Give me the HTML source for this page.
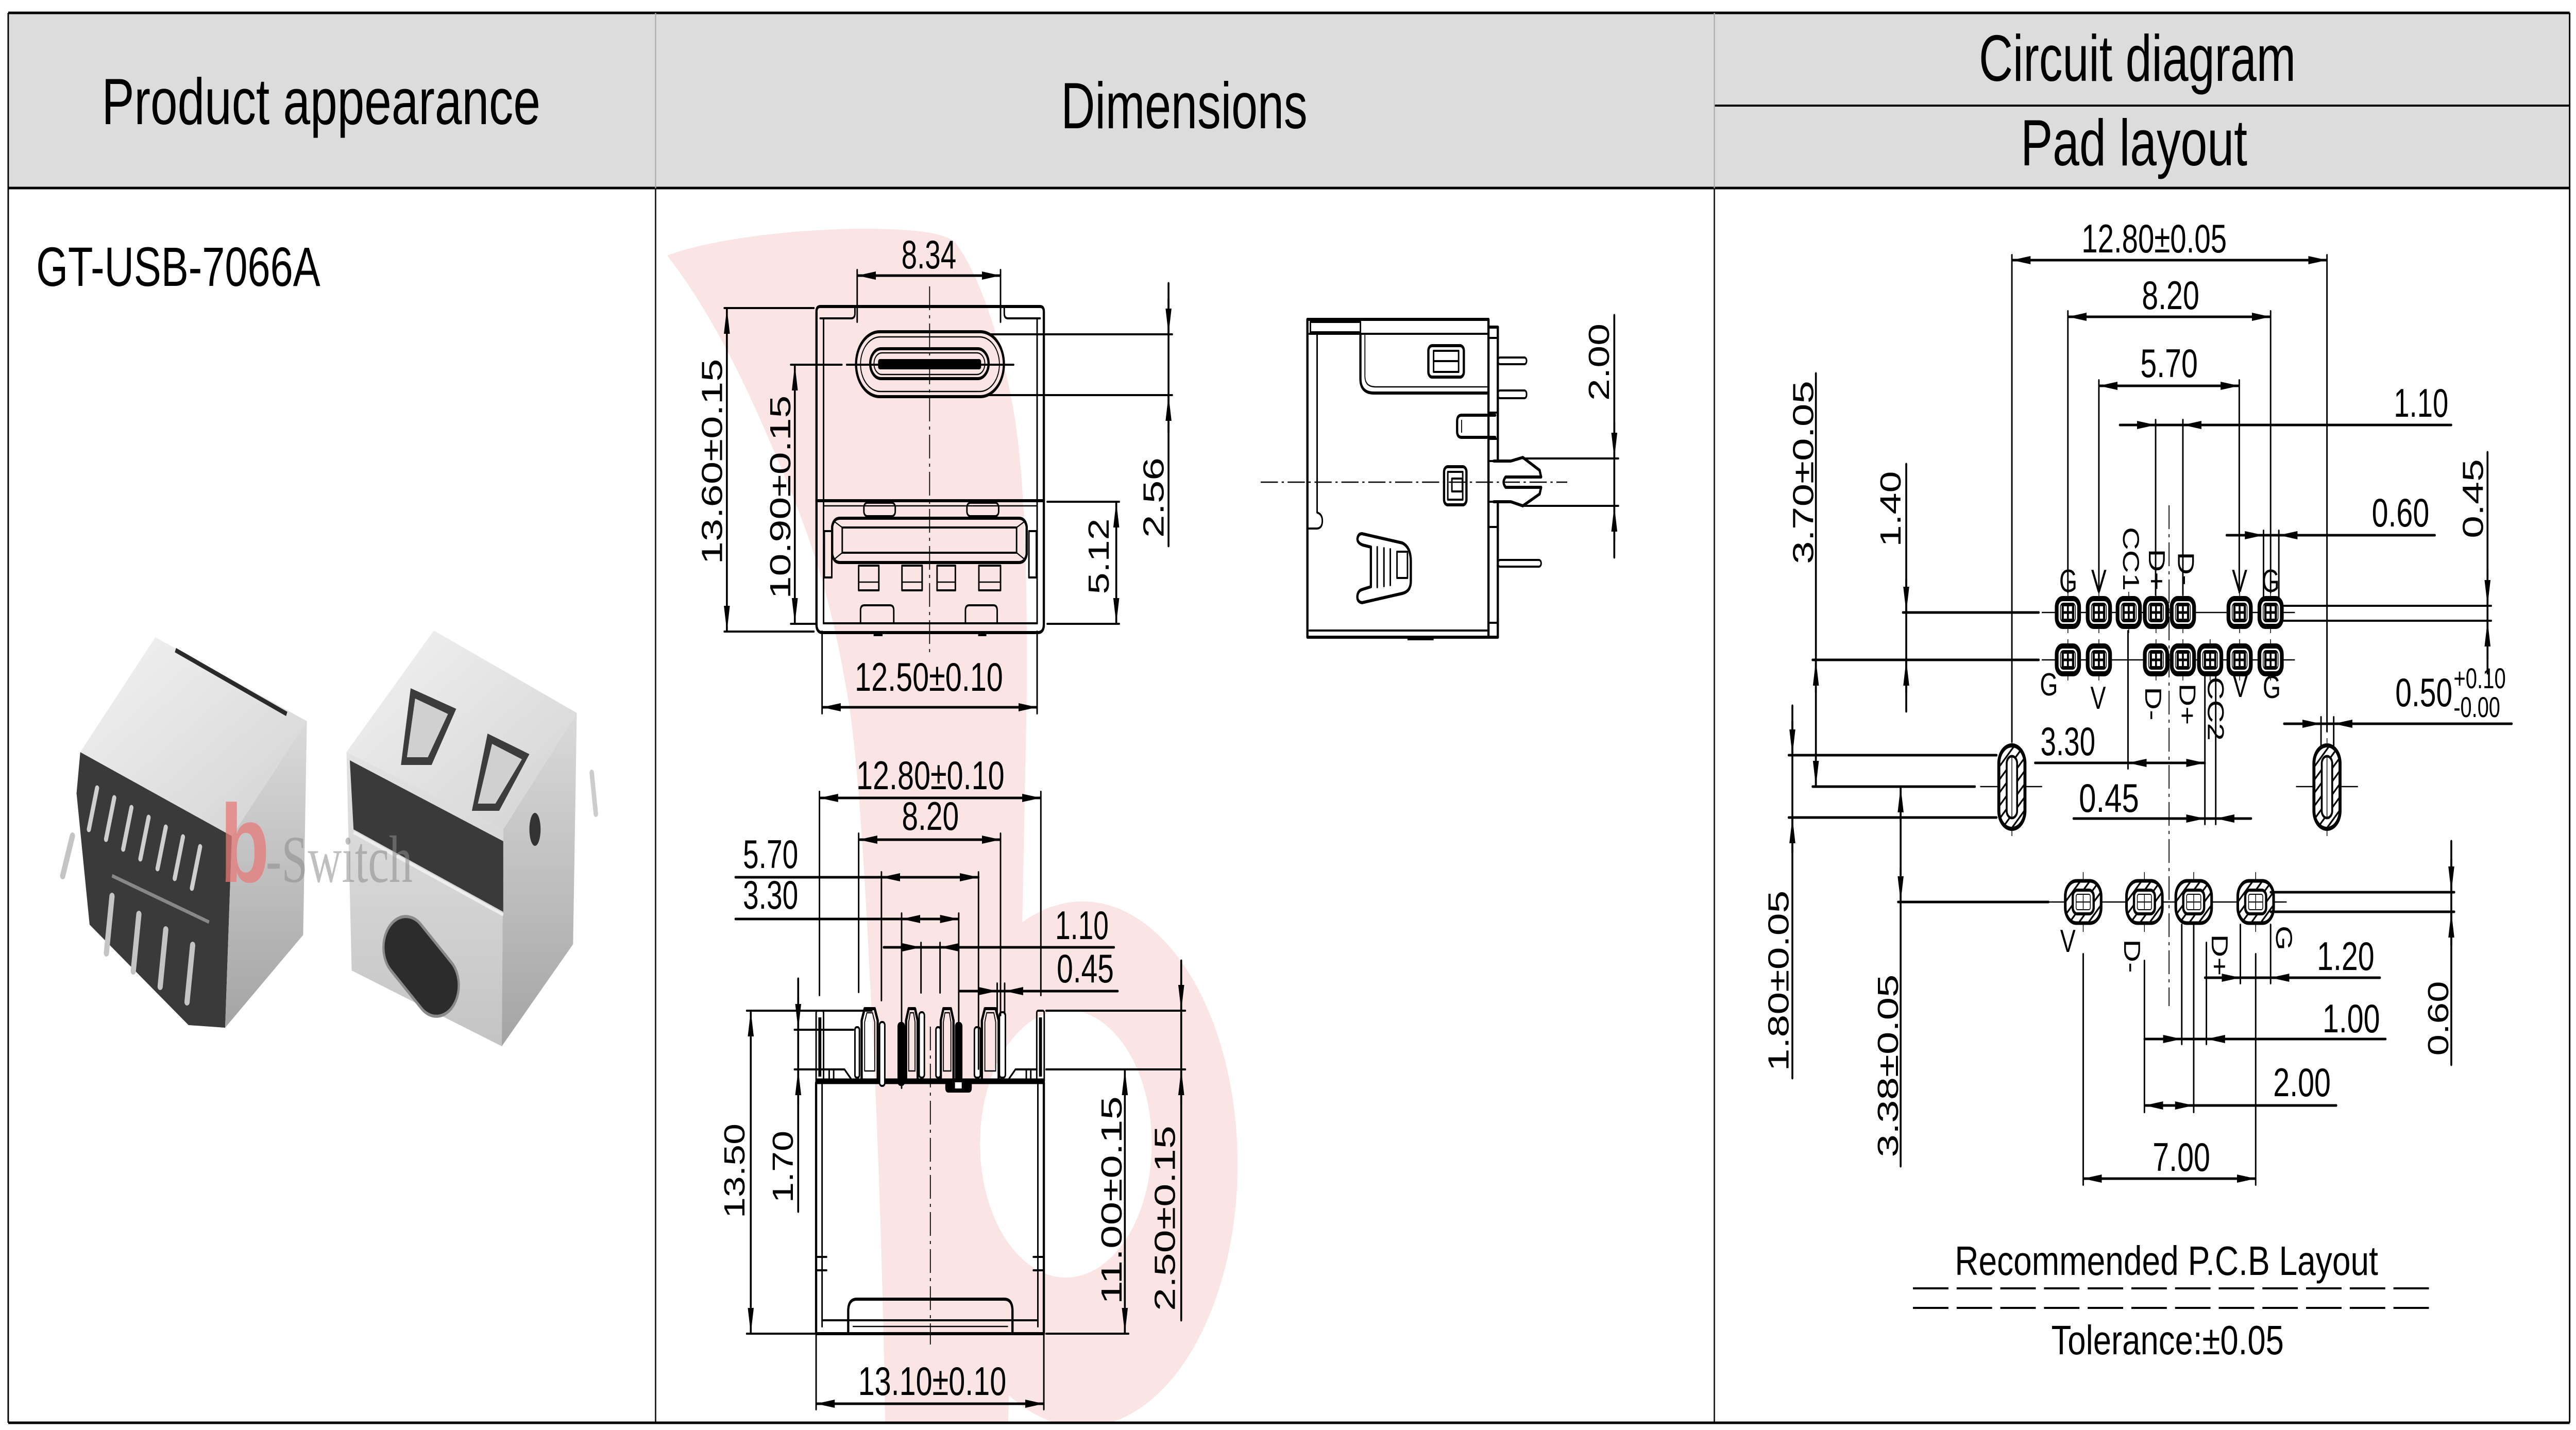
<!DOCTYPE html>
<html><head><meta charset="utf-8"><style>
html,body{margin:0;padding:0;background:#fff;width:100%;height:100%;overflow:hidden}
svg{display:block;width:100vw;height:100vh}
text{font-family:"Liberation Sans",Arial,sans-serif;fill:#000}
.d{font-size:78px}
.lb{font-size:62px}
.k{stroke:#000;fill:none;stroke-width:6;stroke-linecap:round;stroke-linejoin:round}
.m{stroke:#000;fill:none;stroke-width:4;stroke-linecap:round;stroke-linejoin:round}
.t{stroke:#000;fill:none;stroke-width:2.5}
.x{stroke:#000;fill:none;stroke-width:4;stroke-linecap:round}
.dm{stroke:#000;stroke-width:5;fill:none;marker-start:url(#ar);marker-end:url(#ar)}
.ae{stroke:#000;stroke-width:5;fill:none;marker-end:url(#ar)}
.ln{stroke:#000;stroke-width:5;fill:none;stroke-linecap:round}
.c{stroke:#000;fill:none;stroke-width:2.5;stroke-dasharray:46 10 6 10}
</style></head><body>
<svg viewBox="0 0 6900 2776" preserveAspectRatio="none" xmlns="http://www.w3.org/2000/svg">
<defs>
<marker id="ar" viewBox="0 0 50 16" refX="50" refY="8" markerWidth="50" markerHeight="16" markerUnits="userSpaceOnUse" orient="auto-start-reverse"><path d="M0,0L50,8L0,16Z" fill="#000"/></marker>
<pattern id="h" width="18" height="18" patternUnits="userSpaceOnUse" patternTransform="rotate(45)"><rect width="18" height="18" fill="#fff"/><rect width="4" height="18" fill="#000"/></pattern>
<linearGradient id="gt" x1="0" y1="0" x2="1" y2="1"><stop offset="0" stop-color="#f3f3f3"/><stop offset="1" stop-color="#d2d2d2"/></linearGradient>
<linearGradient id="gs" x1="0" y1="0" x2="0" y2="1"><stop offset="0" stop-color="#dadada"/><stop offset="1" stop-color="#a4a4a4"/></linearGradient>
<linearGradient id="gf" x1="0" y1="0" x2="0" y2="1"><stop offset="0" stop-color="#e2e2e2"/><stop offset="1" stop-color="#c4c4c4"/></linearGradient>
<clipPath id="cp"><rect x="1758" y="367" width="2832" height="2393"/></clipPath>
<g id="pad"><line x1="0" y1="-40" x2="0" y2="40" stroke="#000" stroke-width="2"/><rect x="-30" y="-27" width="60" height="54" rx="16" fill="#fff" stroke="#000" stroke-width="10"/><rect x="-20" y="-18" width="40" height="36" rx="8" fill="none" stroke="#000" stroke-width="2"/><rect x="-14" y="-15" width="28" height="30" fill="none" stroke="#000" stroke-width="6"/><line x1="0" y1="-15" x2="0" y2="15" stroke="#000" stroke-width="5"/><line x1="-14" y1="0" x2="14" y2="0" stroke="#000" stroke-width="5"/></g>
<g id="bp"><line x1="0" y1="-58" x2="0" y2="58" stroke="#000" stroke-width="2"/><rect x="-48" y="-41" width="96" height="82" rx="30" fill="url(#h)" stroke="#000" stroke-width="7"/><rect x="-28" y="-23" width="56" height="46" rx="12" fill="#fff" stroke="#000" stroke-width="6"/><rect x="-19" y="-15" width="38" height="30" rx="4" fill="none" stroke="#000" stroke-width="2"/><line x1="-19" y1="0" x2="19" y2="0" stroke="#000" stroke-width="2"/><line x1="0" y1="-15" x2="0" y2="15" stroke="#000" stroke-width="2"/></g>
<g id="ov"><line x1="0" y1="-95" x2="0" y2="95" stroke="#000" stroke-width="2"/><rect x="-35" y="-81" width="70" height="162" rx="35" fill="url(#h)" stroke="#000" stroke-width="8"/><rect x="-14" y="-60" width="28" height="120" rx="14" fill="#fff" stroke="#000" stroke-width="5"/><line x1="0" y1="-60" x2="0" y2="60" stroke="#000" stroke-width="2"/></g>
</defs>

<rect width="6900" height="2776" fill="#fff"/>
<!-- header -->
<rect x="22" y="25" width="6861" height="340" fill="#dcdcdc"/>
<line x1="22" y1="25" x2="6883" y2="25" stroke="#000" stroke-width="5"/>
<line x1="22" y1="365" x2="6883" y2="365" stroke="#000" stroke-width="5"/>
<line x1="4592" y1="205" x2="6883" y2="205" stroke="#000" stroke-width="4"/>
<line x1="1756" y1="25" x2="1756" y2="365" stroke="#aaa" stroke-width="3"/>
<line x1="4592" y1="25" x2="4592" y2="365" stroke="#aaa" stroke-width="3"/>
<text x="860" y="241" font-size="127" text-anchor="middle" textLength="1175" lengthAdjust="spacingAndGlyphs">Product appearance</text>
<text x="3172" y="249" font-size="127" text-anchor="middle" textLength="660" lengthAdjust="spacingAndGlyphs">Dimensions</text>
<text x="5725" y="157" font-size="127" text-anchor="middle" textLength="849" lengthAdjust="spacingAndGlyphs">Circuit diagram</text>
<text x="5716" y="321" font-size="127" text-anchor="middle" textLength="607" lengthAdjust="spacingAndGlyphs">Pad layout</text>

<!-- pink watermark -->
<g clip-path="url(#cp)">
<path d="M1787,496 C1900,466 2100,446 2300,444 C2440,444 2530,450 2560,472 C2630,540 2690,680 2720,820 C2748,960 2752,1150 2750,1360 L2738,1800 L2700,2770 L2371,2770 C2366,2500 2350,2150 2330,1900 C2310,1600 2290,1420 2265,1330 C2230,1180 2180,1060 2110,940 C2020,780 1920,620 1787,496 Z" fill="#fbe4e4"/>
<ellipse cx="2900" cy="2260" rx="415" ry="510" fill="#fbe4e4"/>
<ellipse cx="2855" cy="2220" rx="230" ry="260" fill="#fff"/>
</g>

<!-- body borders -->
<line x1="1756" y1="365" x2="1756" y2="2762" stroke="#222" stroke-width="4"/>
<line x1="4592" y1="365" x2="4592" y2="2762" stroke="#222" stroke-width="4"/>
<line x1="22" y1="25" x2="22" y2="2762" stroke="#000" stroke-width="4"/>
<line x1="6883" y1="25" x2="6883" y2="2762" stroke="#000" stroke-width="4"/>
<line x1="22" y1="2762" x2="6883" y2="2762" stroke="#000" stroke-width="5"/>

<text x="97" y="555" font-size="108" textLength="761" lengthAdjust="spacingAndGlyphs">GT-USB-7066A</text>

<!-- product photo -->
<g>
<polygon points="215,1460 621,1623 603,1995 505,1990 240,1795 205,1540" fill="#3a3a3a"/>
<polygon points="621,1623 822,1400 812,1815 603,1995" fill="url(#gs)"/>
<polygon points="416,1237 822,1400 621,1623 215,1460" fill="url(#gt)"/>
<line x1="470" y1="1262" x2="768" y2="1386" stroke="#2a2a2a" stroke-width="9"/>
<g stroke="#cfcfcf" stroke-width="11" stroke-linecap="round">
<line x1="260" y1="1530" x2="238" y2="1610"/><line x1="306" y1="1549" x2="284" y2="1629"/><line x1="352" y1="1568" x2="330" y2="1648"/><line x1="398" y1="1587" x2="376" y2="1667"/><line x1="444" y1="1606" x2="422" y2="1686"/><line x1="490" y1="1625" x2="468" y2="1705"/><line x1="536" y1="1644" x2="514" y2="1724"/>
</g>
<line x1="300" y1="1700" x2="560" y2="1790" stroke="#888" stroke-width="7"/>
<g stroke="#c4c4c4" stroke-width="14" stroke-linecap="round">
<line x1="300" y1="1740" x2="285" y2="1850"/><line x1="372" y1="1775" x2="357" y2="1885"/><line x1="444" y1="1805" x2="429" y2="1915"/><line x1="516" y1="1835" x2="501" y2="1945"/>
<line x1="194" y1="1623" x2="168" y2="1700"/>
</g>
<polygon points="928,1460 1348,1610 1344,2031 942,1884" fill="url(#gf)"/>
<polygon points="1348,1610 1545,1384 1535,1833 1344,2031" fill="url(#gs)"/>
<polygon points="1162,1224 1545,1384 1348,1610 928,1460" fill="url(#gt)"/>
<polygon points="937,1476 1348,1633 1348,1770 947,1610" fill="#3a3a3a"/>
<line x1="947" y1="1616" x2="1348" y2="1776" stroke="#eee" stroke-width="6"/>
<polygon points="1100,1336 1222,1376 1156,1485 1074,1485" fill="#3c3c3c"/>
<polygon points="1112,1356 1200,1386 1146,1470 1090,1470" fill="#d0d0d0"/>
<polygon points="1306,1424 1418,1464 1337,1574 1264,1574" fill="#3c3c3c"/>
<polygon points="1318,1444 1398,1474 1327,1560 1280,1560" fill="#d0d0d0"/>
<rect x="-60" y="-115" width="120" height="230" rx="60" transform="translate(1128,1876) rotate(-48)" fill="#2c2c2c" stroke="#8a8a8a" stroke-width="6"/>
<ellipse cx="1433" cy="1610" rx="15" ry="32" fill="#333"/>
<line x1="1585" y1="1500" x2="1596" y2="1580" stroke="#ccc" stroke-width="12" stroke-linecap="round"/>
<text x="590" y="1712" font-size="215" font-weight="bold" style="fill:#e77878;fill-opacity:0.75">b</text>
<text x="712" y="1712" font-size="130" textLength="393" lengthAdjust="spacingAndGlyphs" style="font-family:'Liberation Serif',serif;fill:#8a8a8a;fill-opacity:0.55">-Switch</text>
</g>

<!-- ===== Top drawing (front) ===== -->
<g>
<path class="k" d="M2187,1212 L2187,605 Q2187,595 2197,595 L2786,595 Q2796,595 2796,605 L2796,1212 Q2796,1228 2780,1228 L2203,1228 Q2187,1228 2187,1212 Z"/>
<line class="m" x1="2206" y1="618" x2="2206" y2="1210"/>
<line class="m" x1="2778" y1="618" x2="2778" y2="1210"/>
<path class="m" d="M2197,618 L2280,618 Q2290,618 2290,608 L2290,598"/>
<path class="m" d="M2786,618 L2700,618 Q2690,618 2690,608 L2690,598"/>
<rect class="k" x="2293" y="644" width="396" height="126" rx="63"/>
<rect class="t" x="2305" y="654" width="372" height="106" rx="53"/>
<rect class="k" x="2331" y="677" width="317" height="58" rx="29"/>
<rect class="t" x="2341" y="685" width="297" height="42" rx="21"/>
<rect x="2352" y="697" width="276" height="20" rx="5" fill="#000"/>
<line class="k" x1="2187" y1="972" x2="2796" y2="972"/>
<line class="t" x1="2206" y1="982" x2="2778" y2="982"/>
<rect class="m" x="2314" y="976" width="84" height="26" rx="9"/>
<rect class="m" x="2590" y="976" width="85" height="26" rx="9"/>
<path class="k" d="M2250,1006 L2729,1006 Q2746,1006 2750,1022 L2750,1076 Q2746,1092 2729,1092 L2250,1092 Q2233,1092 2229,1076 L2229,1022 Q2233,1006 2250,1006 Z"/>
<rect class="m" x="2256" y="1024" width="467" height="49"/>
<path class="t" d="M2234,1012 L2256,1024 M2745,1012 L2723,1024 M2234,1086 L2256,1073 M2745,1086 L2723,1073"/>
<rect class="m" x="2208" y="1031" width="20" height="90"/>
<rect class="m" x="2756" y="1031" width="20" height="90"/>
<rect class="m" x="2300" y="1098" width="54" height="48"/><line class="t" x1="2300" y1="1130" x2="2354" y2="1130"/>
<rect class="m" x="2416" y="1098" width="54" height="48"/><line class="t" x1="2416" y1="1130" x2="2470" y2="1130"/>
<rect class="m" x="2510" y="1098" width="49" height="48"/><line class="t" x1="2510" y1="1130" x2="2559" y2="1130"/>
<rect class="m" x="2622" y="1098" width="58" height="48"/><line class="t" x1="2622" y1="1130" x2="2680" y2="1130"/>
<path class="m" d="M2305,1210 L2305,1185 Q2305,1175 2315,1175 L2384,1175 Q2394,1175 2394,1185 L2394,1210"/>
<path class="m" d="M2586,1210 L2586,1185 Q2586,1175 2596,1175 L2661,1175 Q2671,1175 2671,1185 L2671,1210"/>
<line class="m" x1="2206" y1="1210" x2="2778" y2="1210"/>
<rect x="2340" y="1228" width="24" height="7" fill="#000"/><rect x="2620" y="1228" width="22" height="7" fill="#000"/>
<line class="c" x1="2490" y1="556" x2="2490" y2="1274"/>
<!-- dims -->
<line class="x" x1="2296" y1="524" x2="2296" y2="625"/>
<line class="x" x1="2680" y1="524" x2="2680" y2="625"/>
<line class="dm" x1="2296" y1="535" x2="2680" y2="535"/>
<text class="d" x="2488" y="521" text-anchor="middle" textLength="147" lengthAdjust="spacingAndGlyphs">8.34</text>
<line class="x" x1="1940" y1="598" x2="2180" y2="598"/>
<line class="x" x1="1940" y1="1226" x2="2180" y2="1226"/>
<line class="dm" x1="1947" y1="598" x2="1947" y2="1226"/>
<text class="d" text-anchor="middle" textLength="399" lengthAdjust="spacingAndGlyphs" transform="translate(1934,896) rotate(-90)">13.60±0.15</text>
<line class="x" x1="2118" y1="708" x2="2255" y2="708"/>
<line class="x" x1="2268" y1="708" x2="2715" y2="708"/>
<line class="x" x1="2118" y1="1211" x2="2186" y2="1211"/>
<line class="dm" x1="2129" y1="708" x2="2129" y2="1211"/>
<text class="d" text-anchor="middle" textLength="395" lengthAdjust="spacingAndGlyphs" transform="translate(2117,965) rotate(-90)">10.90±0.15</text>
<line class="x" x1="2805" y1="974" x2="2998" y2="974"/>
<line class="x" x1="2805" y1="1211" x2="2998" y2="1211"/>
<line class="dm" x1="2990" y1="974" x2="2990" y2="1211"/>
<text class="d" text-anchor="middle" textLength="147" lengthAdjust="spacingAndGlyphs" transform="translate(2970,1080) rotate(-90)">5.12</text>
<line class="x" x1="2650" y1="649" x2="3140" y2="649"/>
<line class="x" x1="2650" y1="767" x2="3140" y2="767"/>
<line class="ln" x1="3130" y1="550" x2="3130" y2="1060"/>
<line class="ae" x1="3130" y1="580" x2="3130" y2="649"/>
<line class="ae" x1="3130" y1="840" x2="3130" y2="767"/>
<text class="d" text-anchor="middle" textLength="156" lengthAdjust="spacingAndGlyphs" transform="translate(3117,966) rotate(-90)">2.56</text>
<line class="x" x1="2202" y1="1226" x2="2202" y2="1385"/>
<line class="x" x1="2778" y1="1226" x2="2778" y2="1385"/>
<line class="dm" x1="2202" y1="1373" x2="2778" y2="1373"/>
<text class="d" x="2488" y="1341" text-anchor="middle" textLength="397" lengthAdjust="spacingAndGlyphs">12.50±0.10</text>
</g>

<!-- ===== Side view ===== -->
<g>
<rect class="k" x="3502" y="620" width="485" height="617"/>
<line class="m" x1="3507" y1="648" x2="3984" y2="648"/>
<path class="m" d="M3528,648 L3528,995 Q3542,998 3542,1011 Q3542,1025 3528,1026 L3506,1026"/>
<rect class="m" x="3510" y="625" width="134" height="20"/>
<path class="k" d="M3644,648 L3644,735 Q3644,763 3680,763 L3984,763"/>
<path class="t" d="M3656,648 L3656,730 Q3656,751 3684,751 L3984,751"/>
<rect class="k" x="3826" y="671" width="95" height="61" rx="10"/>
<rect class="m" x="3840" y="681" width="67" height="41"/>
<line class="m" x1="3840" y1="701" x2="3907" y2="701"/>
<path class="k" d="M3987,635 L4012,635 L4012,895 M4012,974 L4012,1237 L3987,1237"/>
<g class="m"><line x1="3987" y1="656" x2="4012" y2="656"/><line x1="3987" y1="801" x2="4012" y2="801"/><line x1="3987" y1="852" x2="4012" y2="852"/><line x1="3987" y1="895" x2="4012" y2="895"/><line x1="3987" y1="974" x2="4012" y2="974"/><line x1="3987" y1="1023" x2="4012" y2="1023"/><line x1="3987" y1="1209" x2="4012" y2="1209"/></g>
<rect class="m" x="4012" y="694" width="77" height="13" rx="6"/>
<rect class="m" x="4012" y="758" width="77" height="15" rx="6"/>
<rect class="m" x="4012" y="1087" width="116" height="13" rx="6"/>
<path class="k" d="M4005,806 L3915,806 Q3903,806 3903,818 L3903,837 Q3903,849 3915,849 L4005,849"/>
<line class="t" x1="3915" y1="815" x2="3915" y2="840"/>
<path class="k" d="M4001,895 L4047,895 L4079,888 L4124,913 L4128,926 L4033,926 Q4022,936 4033,946 L4128,946 L4124,959 L4079,982 L4047,974 L4001,974"/>
<rect class="k" x="3868" y="906" width="60" height="74" rx="10"/>
<rect class="m" x="3878" y="916" width="40" height="54"/>
<rect class="m" x="3889" y="929" width="28" height="25"/>
<path class="k" d="M3648,1036 L3756,1054 Q3779,1062 3779,1090 L3779,1128 Q3779,1148 3756,1152 L3648,1170 Q3634,1168 3636,1156 Q3638,1146 3650,1144 L3672,1139 L3672,1062 L3650,1058 Q3636,1054 3636,1046 Q3638,1036 3648,1036 Z"/>
<g class="m"><line x1="3689" y1="1062" x2="3689" y2="1140"/><line x1="3707" y1="1064" x2="3707" y2="1138"/><line x1="3724" y1="1066" x2="3724" y2="1136"/></g>
<rect class="m" x="3742" y="1071" width="28" height="51"/>
<line class="m" x1="3507" y1="1224" x2="3984" y2="1224"/>
<rect x="3770" y="1237" width="70" height="6" fill="#000"/>
<line class="c" x1="3377" y1="936" x2="4198" y2="936"/>
<line class="x" x1="4080" y1="890" x2="4335" y2="890"/>
<line class="x" x1="4080" y1="982" x2="4335" y2="982"/>
<line class="ln" x1="4324" y1="612" x2="4324" y2="1082"/>
<line class="ae" x1="4324" y1="820" x2="4324" y2="890"/>
<line class="ae" x1="4324" y1="1050" x2="4324" y2="982"/>
<text class="d" text-anchor="middle" textLength="150" lengthAdjust="spacingAndGlyphs" transform="translate(4310,703) rotate(-90)">2.00</text>
</g>

<!-- ===== Bottom drawing ===== -->
<g>
<rect class="m" x="2186" y="1962" width="20" height="140" rx="4"/>
<rect x="2192" y="1975" width="8" height="115" fill="#000"/>
<rect class="m" x="2777" y="1962" width="20" height="140" rx="4"/>
<rect x="2783" y="1975" width="8" height="115" fill="#000"/>
<line class="k" x1="2186" y1="2102" x2="2186" y2="2589"/>
<line class="m" x1="2202" y1="2102" x2="2202" y2="2575"/>
<line class="k" x1="2796" y1="2102" x2="2796" y2="2589"/>
<line class="m" x1="2780" y1="2102" x2="2780" y2="2575"/>
<line x1="2186" y1="2099" x2="2796" y2="2099" stroke="#000" stroke-width="11"/>
<path class="m" d="M2206,2076 L2262,2076 L2285,2100 M2221,2076 L2221,2100 M2233,2076 L2233,2100"/>
<path class="m" d="M2776,2076 L2720,2076 L2697,2100 M2761,2076 L2761,2100 M2749,2076 L2749,2100"/>
<path class="k" d="M2308,2095 L2308,1981 L2316,1958 L2343,1958 L2351,1981 L2351,2095"/>
<path class="t" d="M2316,2079 L2316,1984 L2322,1966 L2337,1966 L2343,1984 L2343,2079 Z"/>
<path class="k" d="M2427,2095 L2427,1981 L2434,1958 L2451,1958 L2458,1981 L2458,2095"/>
<path class="t" d="M2434,2079 L2434,1984 L2438,1966 L2447,1966 L2451,1984 L2451,2079 Z"/>
<path class="k" d="M2520,2095 L2520,1981 L2527,1958 L2547,1958 L2554,1981 L2554,2095"/>
<path class="t" d="M2527,2079 L2527,1984 L2531,1966 L2543,1966 L2547,1984 L2547,2079 Z"/>
<path class="k" d="M2630,2095 L2630,1981 L2638,1958 L2667,1958 L2675,1981 L2675,2095"/>
<path class="t" d="M2638,2079 L2638,1984 L2643,1966 L2662,1966 L2667,1984 L2667,2079 Z"/>
<g fill="#fff" stroke="#000" stroke-width="4">
<rect x="2290" y="1994" width="12" height="98" rx="5"/>
<rect x="2356" y="1984" width="14" height="124" rx="6"/>
<rect x="2462" y="1965" width="14" height="127" rx="6"/>
<rect x="2507" y="1994" width="12" height="98" rx="5"/>
<rect x="2610" y="1994" width="16" height="98" rx="6"/>
<rect x="2677" y="1965" width="16" height="127" rx="6"/>
</g>
<rect x="2404" y="1984" width="20" height="124" rx="8" fill="#000"/>
<rect x="2558" y="1984" width="20" height="126" rx="8" fill="#000"/>
<path d="M2532,2099 L2532,2112 Q2532,2121 2541,2121 L2594,2121 Q2603,2121 2603,2112 L2603,2099 Z" fill="#000"/>
<rect x="2558" y="2101" width="18" height="12" fill="#fff"/>
<path class="m" d="M2186,2440 L2214,2440 M2186,2466 L2214,2466 M2796,2440 L2768,2440 M2796,2466 L2768,2466"/>
<line class="m" x1="2202" y1="2563" x2="2780" y2="2563"/>
<path class="k" d="M2272,2587 L2272,2545 Q2272,2522 2295,2522 L2690,2522 Q2712,2522 2712,2545 L2712,2587"/>
<line class="t" x1="2284" y1="2575" x2="2700" y2="2575"/>
<line class="k" x1="2186" y1="2589" x2="2796" y2="2589"/>
<line class="c" x1="2492" y1="1993" x2="2492" y2="2610"/>
<!-- dims -->
<line class="x" x1="2195" y1="1537" x2="2195" y2="1932"/>
<line class="x" x1="2788" y1="1537" x2="2788" y2="1932"/>
<line class="dm" x1="2195" y1="1549" x2="2788" y2="1549"/>
<text class="d" x="2492" y="1532" text-anchor="middle" textLength="397" lengthAdjust="spacingAndGlyphs">12.80±0.10</text>
<line class="x" x1="2300" y1="1618" x2="2300" y2="1926"/>
<line class="x" x1="2680" y1="1618" x2="2680" y2="1971"/>
<line class="dm" x1="2300" y1="1630" x2="2680" y2="1630"/>
<text class="d" x="2492" y="1611" text-anchor="middle" textLength="153" lengthAdjust="spacingAndGlyphs">8.20</text>
<line class="x" x1="2361" y1="1693" x2="2361" y2="1942"/>
<line class="x" x1="2621" y1="1693" x2="2621" y2="2075"/>
<line class="ln" x1="1970" y1="1703" x2="2621" y2="1703"/>
<line class="ae" x1="2425" y1="1703" x2="2361" y2="1703"/>
<line class="ae" x1="2555" y1="1703" x2="2621" y2="1703"/>
<text class="d" x="1990" y="1685" textLength="148" lengthAdjust="spacingAndGlyphs">5.70</text>
<line class="x" x1="2415" y1="1773" x2="2415" y2="2112"/>
<line class="x" x1="2568" y1="1773" x2="2568" y2="1985"/>
<line class="ln" x1="1970" y1="1784" x2="2415" y2="1784"/>
<line class="dm" x1="2415" y1="1784" x2="2568" y2="1784"/>
<text class="d" x="1990" y="1764" textLength="148" lengthAdjust="spacingAndGlyphs">3.30</text>
<line class="x" x1="2467" y1="1830" x2="2467" y2="1927"/>
<line class="x" x1="2518" y1="1830" x2="2518" y2="1927"/>
<line class="ln" x1="2367" y1="1839" x2="2984" y2="1839"/>
<line class="ae" x1="2400" y1="1839" x2="2467" y2="1839"/>
<line class="ae" x1="2585" y1="1839" x2="2518" y2="1839"/>
<text class="d" x="2898" y="1823" text-anchor="middle" textLength="143" lengthAdjust="spacingAndGlyphs">1.10</text>
<line class="x" x1="2671" y1="1909" x2="2671" y2="1968"/>
<line class="x" x1="2691" y1="1909" x2="2691" y2="1968"/>
<line class="ln" x1="2571" y1="1924" x2="2994" y2="1924"/>
<line class="ae" x1="2610" y1="1924" x2="2671" y2="1924"/>
<line class="ae" x1="2752" y1="1924" x2="2691" y2="1924"/>
<text class="d" x="2907" y="1907" text-anchor="middle" textLength="153" lengthAdjust="spacingAndGlyphs">0.45</text>
<line class="x" x1="2000" y1="1962" x2="2335" y2="1962"/>
<line class="x" x1="2000" y1="2589" x2="2186" y2="2589"/>
<line class="dm" x1="2011" y1="1962" x2="2011" y2="2589"/>
<text class="d" text-anchor="middle" textLength="184" lengthAdjust="spacingAndGlyphs" transform="translate(1994,2273) rotate(-90)">13.50</text>
<line class="x" x1="2128" y1="1999" x2="2286" y2="1999"/>
<line class="x" x1="2128" y1="2076" x2="2206" y2="2076"/>
<line class="ln" x1="2138" y1="1900" x2="2138" y2="2352"/>
<line class="ae" x1="2138" y1="1935" x2="2138" y2="1999"/>
<line class="ae" x1="2138" y1="2145" x2="2138" y2="2076"/>
<text class="d" text-anchor="middle" textLength="140" lengthAdjust="spacingAndGlyphs" transform="translate(2124,2265) rotate(-90)">1.70</text>
<line class="x" x1="2802" y1="1962" x2="3175" y2="1962"/>
<line class="x" x1="2802" y1="2076" x2="3175" y2="2076"/>
<line class="x" x1="2802" y1="2589" x2="3023" y2="2589"/>
<line class="dm" x1="3013" y1="2076" x2="3013" y2="2589"/>
<text class="d" text-anchor="middle" textLength="404" lengthAdjust="spacingAndGlyphs" transform="translate(3004,2330) rotate(-90)">11.00±0.15</text>
<line class="ln" x1="3164" y1="1865" x2="3164" y2="2563"/>
<line class="ae" x1="3164" y1="1900" x2="3164" y2="1962"/>
<line class="ae" x1="3164" y1="2145" x2="3164" y2="2076"/>
<text class="d" text-anchor="middle" textLength="360" lengthAdjust="spacingAndGlyphs" transform="translate(3147,2365) rotate(-90)">2.50±0.15</text>
<line class="x" x1="2186" y1="2589" x2="2186" y2="2736"/>
<line class="x" x1="2796" y1="2589" x2="2796" y2="2736"/>
<line class="dm" x1="2186" y1="2725" x2="2796" y2="2725"/>
<text class="d" x="2497" y="2708" text-anchor="middle" textLength="397" lengthAdjust="spacingAndGlyphs">13.10±0.10</text>
</g>

<!-- ===== Pad layout ===== -->
<g>
<line class="c" x1="5810" y1="981" x2="5810" y2="1953"/>
<line class="x" x1="5389" y1="495" x2="5389" y2="1440"/>
<line class="x" x1="6233" y1="495" x2="6233" y2="1420"/>
<line class="dm" x1="5389" y1="505" x2="6233" y2="505"/>
<text class="d" x="5770" y="490" text-anchor="middle" textLength="389" lengthAdjust="spacingAndGlyphs">12.80±0.05</text>
<line class="x" x1="5539" y1="604" x2="5539" y2="1150"/>
<line class="x" x1="6082" y1="604" x2="6082" y2="1150"/>
<line class="dm" x1="5539" y1="615" x2="6082" y2="615"/>
<text class="d" x="5814" y="600" text-anchor="middle" textLength="154" lengthAdjust="spacingAndGlyphs">8.20</text>
<line class="x" x1="5622" y1="738" x2="5622" y2="1150"/>
<line class="x" x1="5998" y1="738" x2="5998" y2="1150"/>
<line class="dm" x1="5622" y1="749" x2="5998" y2="749"/>
<text class="d" x="5810" y="732" text-anchor="middle" textLength="154" lengthAdjust="spacingAndGlyphs">5.70</text>
<line class="x" x1="5774" y1="815" x2="5774" y2="1155"/>
<line class="x" x1="5847" y1="815" x2="5847" y2="1155"/>
<line class="ln" x1="5678" y1="825" x2="6566" y2="825"/>
<line class="ae" x1="5700" y1="825" x2="5774" y2="825"/>
<line class="ae" x1="5925" y1="825" x2="5847" y2="825"/>
<text class="d" x="6485" y="809" text-anchor="middle" textLength="146" lengthAdjust="spacingAndGlyphs">1.10</text>
<line class="x" x1="6063" y1="1030" x2="6063" y2="1215"/>
<line class="x" x1="6104" y1="1030" x2="6104" y2="1215"/>
<line class="ln" x1="5964" y1="1039" x2="6522" y2="1039"/>
<line class="ae" x1="5990" y1="1039" x2="6063" y2="1039"/>
<line class="ae" x1="6180" y1="1039" x2="6104" y2="1039"/>
<text class="d" x="6430" y="1022" text-anchor="middle" textLength="154" lengthAdjust="spacingAndGlyphs">0.60</text>
<line class="x" x1="6100" y1="1176" x2="6673" y2="1176"/>
<line class="x" x1="6100" y1="1205" x2="6673" y2="1205"/>
<line class="ln" x1="6663" y1="878" x2="6663" y2="1307"/>
<line class="ae" x1="6663" y1="1105" x2="6663" y2="1176"/>
<line class="ae" x1="6663" y1="1280" x2="6663" y2="1205"/>
<text class="d" text-anchor="middle" textLength="154" lengthAdjust="spacingAndGlyphs" transform="translate(6651,968) rotate(-90)">0.45</text>
<line class="x" x1="6217" y1="1392" x2="6217" y2="1447"/>
<line class="x" x1="6251" y1="1392" x2="6251" y2="1447"/>
<line class="ln" x1="6118" y1="1405" x2="6728" y2="1405"/>
<line class="ae" x1="6140" y1="1405" x2="6217" y2="1405"/>
<line class="ae" x1="6330" y1="1405" x2="6251" y2="1405"/>
<text class="d" x="6416" y="1371" textLength="153" lengthAdjust="spacingAndGlyphs">0.50</text>
<text x="6572" y="1336" font-size="56" textLength="140" lengthAdjust="spacingAndGlyphs">+0.10</text>
<text x="6572" y="1392" font-size="56" textLength="125" lengthAdjust="spacingAndGlyphs">-0.00</text>
<line class="ln" x1="4864" y1="725" x2="4864" y2="1527"/>
<line class="ae" x1="4864" y1="1345" x2="4864" y2="1281"/>
<line class="ae" x1="4864" y1="1462" x2="4864" y2="1527"/>
<text class="d" text-anchor="middle" textLength="356" lengthAdjust="spacingAndGlyphs" transform="translate(4857,917) rotate(-90)">3.70±0.05</text>
<line class="ln" x1="5106" y1="901" x2="5106" y2="1381"/>
<line class="ae" x1="5106" y1="1125" x2="5106" y2="1189"/>
<line class="ae" x1="5106" y1="1345" x2="5106" y2="1281"/>
<text class="d" text-anchor="middle" textLength="147" lengthAdjust="spacingAndGlyphs" transform="translate(5091,988) rotate(-90)">1.40</text>
<line class="ln" x1="5097" y1="1189" x2="5461" y2="1189"/>
<line class="ln" x1="4855" y1="1281" x2="5461" y2="1281"/>
<line class="t" x1="5469" y1="1189" x2="6147" y2="1189"/>
<line class="t" x1="5469" y1="1281" x2="6147" y2="1281"/>
<line class="ln" x1="4801" y1="1370" x2="4801" y2="2093"/>
<line class="ae" x1="4801" y1="1400" x2="4801" y2="1466"/>
<line class="ae" x1="4801" y1="1655" x2="4801" y2="1587"/>
<text class="d" text-anchor="middle" textLength="351" lengthAdjust="spacingAndGlyphs" transform="translate(4791,1904) rotate(-90)">1.80±0.05</text>
<line class="ln" x1="4791" y1="1466" x2="5348" y2="1466"/>
<line class="ln" x1="4791" y1="1587" x2="5348" y2="1587"/>
<line class="ln" x1="4855" y1="1527" x2="5290" y2="1527"/>
<line class="ln" x1="5091" y1="1527" x2="5091" y2="2264"/>
<line class="ae" x1="5091" y1="1595" x2="5091" y2="1527"/>
<line class="ae" x1="5091" y1="1685" x2="5091" y2="1751"/>
<text class="d" text-anchor="middle" textLength="355" lengthAdjust="spacingAndGlyphs" transform="translate(5084,2069) rotate(-90)">3.38±0.05</text>
<line class="ln" x1="5084" y1="1751" x2="5487" y2="1751"/>
<line class="t" x1="5304" y1="1527" x2="5470" y2="1527"/>
<line class="t" x1="6150" y1="1527" x2="6316" y2="1527"/>
<use href="#ov" x="5389" y="1528"/>
<use href="#ov" x="6233" y="1528"/>
<use href="#pad" x="5539" y="1189"/><use href="#pad" x="5622" y="1189"/><use href="#pad" x="5702" y="1189"/><use href="#pad" x="5775" y="1189"/><use href="#pad" x="5847" y="1189"/><use href="#pad" x="5999" y="1189"/><use href="#pad" x="6082" y="1189"/>
<use href="#pad" x="5539" y="1281"/><use href="#pad" x="5622" y="1281"/><use href="#pad" x="5775" y="1281"/><use href="#pad" x="5847" y="1281"/><use href="#pad" x="5920" y="1281"/><use href="#pad" x="5999" y="1281"/><use href="#pad" x="6082" y="1281"/>
<text class="lb" x="5540" y="1149" text-anchor="middle">G</text>
<text class="lb" x="5622" y="1149" text-anchor="middle">V</text>
<text class="lb" text-anchor="middle" transform="translate(5687,1085) rotate(90)">CC1</text>
<text class="lb" text-anchor="middle" transform="translate(5756,1106) rotate(90)">D+</text>
<text class="lb" text-anchor="middle" transform="translate(5834,1104) rotate(90)">D-</text>
<text class="lb" x="5999" y="1149" text-anchor="middle">V</text>
<text class="lb" x="6082" y="1149" text-anchor="middle">G</text>
<text class="lb" x="5488" y="1350" text-anchor="middle">G</text>
<text class="lb" x="5620" y="1376" text-anchor="middle">V</text>
<text class="lb" text-anchor="middle" transform="translate(5746,1366) rotate(90)">D-</text>
<text class="lb" text-anchor="middle" transform="translate(5838,1367) rotate(90)">D+</text>
<text class="lb" text-anchor="middle" transform="translate(5914,1376) rotate(90)">CC2</text>
<text class="lb" x="6001" y="1353" text-anchor="middle">V</text>
<text class="lb" x="6085" y="1355" text-anchor="middle">G</text>
<line class="x" x1="5700" y1="1225" x2="5700" y2="1492"/>
<line class="x" x1="5906" y1="1310" x2="5906" y2="1600"/>
<line class="x" x1="5935" y1="1310" x2="5935" y2="1600"/>
<line class="ln" x1="5451" y1="1481" x2="5906" y2="1481"/>
<line class="ae" x1="5770" y1="1481" x2="5700" y2="1481"/>
<line class="ae" x1="5836" y1="1481" x2="5906" y2="1481"/>
<text class="d" x="5539" y="1466" text-anchor="middle" textLength="147" lengthAdjust="spacingAndGlyphs">3.30</text>
<line class="ln" x1="5554" y1="1589" x2="6030" y2="1589"/>
<line class="ae" x1="5840" y1="1589" x2="5906" y2="1589"/>
<line class="ae" x1="6000" y1="1589" x2="5935" y2="1589"/>
<text class="d" x="5649" y="1576" text-anchor="middle" textLength="161" lengthAdjust="spacingAndGlyphs">0.45</text>
<line class="t" x1="5487" y1="1751" x2="6125" y2="1751"/>
<use href="#bp" x="5580" y="1751"/><use href="#bp" x="5744" y="1751"/><use href="#bp" x="5876" y="1751"/><use href="#bp" x="6042" y="1751"/>
<line class="ln" x1="6082" y1="1732" x2="6574" y2="1732"/>
<line class="ln" x1="6082" y1="1770" x2="6574" y2="1770"/>
<text class="lb" x="5539" y="1848" text-anchor="middle">V</text>
<text class="lb" text-anchor="middle" transform="translate(5690,1856) rotate(90)">D-</text>
<text class="lb" text-anchor="middle" transform="translate(5924,1854) rotate(90)">D+</text>
<text class="lb" text-anchor="middle" transform="translate(6097,1821) rotate(90)">G</text>
<line class="x" x1="5580" y1="1852" x2="5580" y2="2300"/>
<line class="x" x1="5744" y1="1865" x2="5744" y2="2159"/>
<line class="x" x1="5844" y1="1795" x2="5844" y2="2027"/>
<line class="x" x1="5876" y1="1795" x2="5876" y2="2159"/>
<line class="x" x1="5910" y1="1830" x2="5910" y2="2027"/>
<line class="x" x1="6001" y1="1795" x2="6001" y2="1909"/>
<line class="x" x1="6042" y1="1852" x2="6042" y2="2300"/>
<line class="x" x1="6082" y1="1795" x2="6082" y2="1909"/>
<line class="ln" x1="5906" y1="1898" x2="6375" y2="1898"/>
<line class="ae" x1="5935" y1="1898" x2="6001" y2="1898"/>
<line class="ae" x1="6150" y1="1898" x2="6082" y2="1898"/>
<text class="d" x="6283" y="1883" text-anchor="middle" textLength="154" lengthAdjust="spacingAndGlyphs">1.20</text>
<line class="ln" x1="5744" y1="2017" x2="6390" y2="2017"/>
<line class="ae" x1="5775" y1="2017" x2="5844" y2="2017"/>
<line class="ae" x1="5980" y1="2017" x2="5910" y2="2017"/>
<text class="d" x="6298" y="2004" text-anchor="middle" textLength="154" lengthAdjust="spacingAndGlyphs">1.00</text>
<line class="ln" x1="5876" y1="2146" x2="6258" y2="2146"/>
<line class="dm" x1="5744" y1="2146" x2="5876" y2="2146"/>
<text class="d" x="6166" y="2128" text-anchor="middle" textLength="154" lengthAdjust="spacingAndGlyphs">2.00</text>
<line class="dm" x1="5580" y1="2288" x2="6042" y2="2288"/>
<text class="d" x="5843" y="2273" text-anchor="middle" textLength="154" lengthAdjust="spacingAndGlyphs">7.00</text>
<line class="ln" x1="6566" y1="1633" x2="6566" y2="2067"/>
<line class="ae" x1="6566" y1="1668" x2="6566" y2="1732"/>
<line class="ae" x1="6566" y1="1835" x2="6566" y2="1770"/>
<text class="d" text-anchor="middle" textLength="145" lengthAdjust="spacingAndGlyphs" transform="translate(6558,1977) rotate(-90)">0.60</text>
<text x="5803" y="2475" font-size="80" text-anchor="middle" textLength="1134" lengthAdjust="spacingAndGlyphs">Recommended P.C.B Layout</text>
<line x1="5124" y1="2501" x2="6525" y2="2501" stroke="#000" stroke-width="4" stroke-dasharray="95 22"/>
<line x1="5124" y1="2539" x2="6525" y2="2539" stroke="#000" stroke-width="4" stroke-dasharray="95 22"/>
<text x="5806" y="2629" font-size="80" text-anchor="middle" textLength="623" lengthAdjust="spacingAndGlyphs">Tolerance:±0.05</text>
</g>
</svg>
</body></html>
